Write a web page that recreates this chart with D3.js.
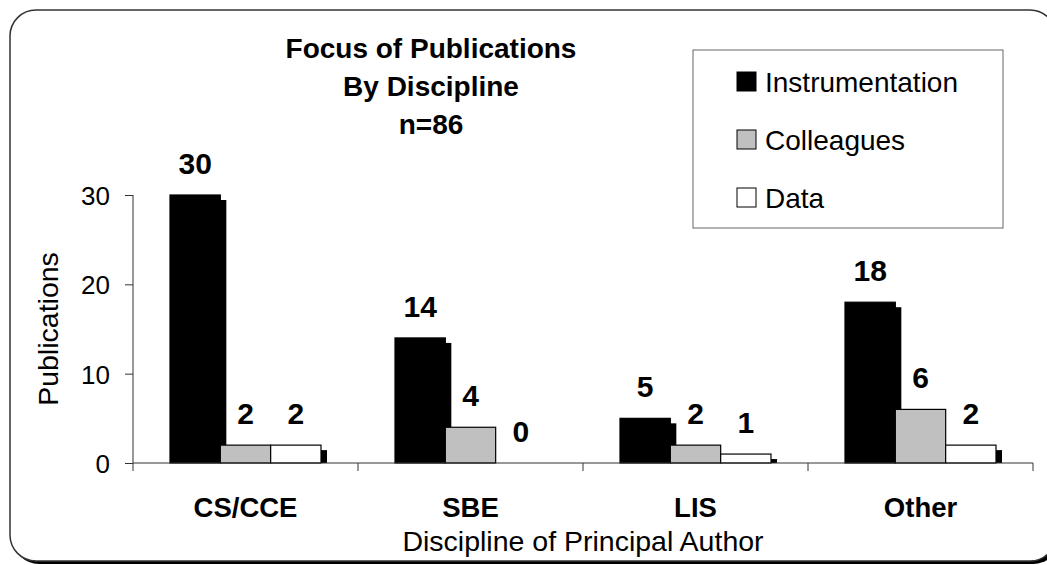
<!DOCTYPE html>
<html>
<head>
<meta charset="utf-8">
<script src="https://cdn.jsdelivr.net/npm/d3@7"></script>
<style>
  body { margin: 0; background: #fff; }
  text { font-family: "Liberation Sans", Arial, sans-serif; fill: #000; }
</style>
</head>
<body>
<svg id="chart" width="1047" height="565"></svg>
<script>
var categories = ["CS/CCE", "SBE", "LIS", "Other"];
var seriesNames = ["Instrumentation", "Colleagues", "Data"];
var instrumentation = [30, 14, 5, 18];
var colleagues = [2, 4, 2, 6];
var dataSeries = [2, 0, 1, 2];
var yTicks = [0, 10, 20, 30];
var titleLines = ["Focus of Publications", "By Discipline", "n=86"];

var seriesValues = [instrumentation, colleagues, dataSeries];
var fills = ["#000000", "#c0c0c0", "#ffffff"];
// the grey series is drawn without the dropped shadow in the original
var hasShadow = [true, false, true];

var svg = d3.select("#chart");

// outer rounded frame with its shadow
svg.append("rect")
  .attr("x", 13).attr("y", 13).attr("width", 1046).attr("height", 551)
  .attr("rx", 26).attr("fill", "#000");
svg.append("rect")
  .attr("x", 10).attr("y", 10).attr("width", 1046).attr("height", 551)
  .attr("rx", 26).attr("fill", "#fff").attr("stroke", "#333").attr("stroke-width", 1.5);

var x0 = d3.scaleBand().domain(categories).range([133, 1033]);
var x1 = d3.scaleBand().domain(seriesNames).range([37, 188]);
var y = d3.scaleLinear().domain([0, 30]).range([463, 195]);

// bars
var groups = svg.selectAll(".group")
  .data(categories)
  .enter()
  .append("g")
  .attr("class", "group")
  .attr("transform", function(d) { return "translate(" + x0(d) + ",0)"; });

groups.each(function(cat, ci) {
  var g = d3.select(this);
  seriesNames.forEach(function(s, si) {
    var v = seriesValues[si][ci];
    if (v > 0) {
      if (hasShadow[si]) {
        g.append("rect")
          .attr("x", x1(s) + 6)
          .attr("y", y(v) + 5)
          .attr("width", x1.bandwidth())
          .attr("height", Math.max(0, y(0) - y(v) - 5))
          .attr("fill", "#000");
      }
      g.append("rect")
        .attr("x", x1(s))
        .attr("y", y(v))
        .attr("width", x1.bandwidth())
        .attr("height", y(0) - y(v))
        .attr("fill", fills[si])
        .attr("stroke", "#000")
        .attr("stroke-width", 1.2);
    }
    g.append("text")
      .attr("x", x1(s) + x1.bandwidth() / 2)
      .attr("y", y(v) - 21)
      .attr("text-anchor", "middle")
      .style("font-size", "30px")
      .style("font-weight", "bold")
      .text(v);
  });
});

// y axis
var yAxis = svg.append("g")
  .attr("transform", "translate(133,0)")
  .call(d3.axisLeft(y).tickValues(yTicks).tickSize(8).tickPadding(15));
yAxis.select(".domain").attr("stroke", "#333").attr("d", "M0," + y(30) + "V" + y(0));
yAxis.selectAll(".tick line").attr("stroke", "#333");
yAxis.selectAll(".tick text")
  .attr("font-family", null)
  .style("font-size", "26px")
  .attr("dy", "0.36em");

// x axis: line with ticks at band edges
var xAxis = svg.append("g");
xAxis.append("line")
  .attr("x1", 133).attr("x2", 1033).attr("y1", y(0)).attr("y2", y(0))
  .attr("stroke", "#333");
xAxis.selectAll(".xtick")
  .data(categories.concat(["end"]))
  .enter()
  .append("line")
  .attr("x1", function(d, i) { return 133 + i * x0.bandwidth(); })
  .attr("x2", function(d, i) { return 133 + i * x0.bandwidth(); })
  .attr("y1", y(0)).attr("y2", y(0) + 8)
  .attr("stroke", "#333");
xAxis.selectAll(".xlabel")
  .data(categories)
  .enter()
  .append("text")
  .attr("x", function(d) { return x0(d) + x0.bandwidth() / 2; })
  .attr("y", 517)
  .attr("text-anchor", "middle")
  .style("font-size", "27.5px")
  .style("font-weight", "bold")
  .text(function(d) { return d; });

// axis titles
svg.append("text")
  .attr("x", 583).attr("y", 551)
  .attr("text-anchor", "middle")
  .style("font-size", "28.5px")
  .text("Discipline of Principal Author");
svg.append("text")
  .attr("transform", "translate(58," + (y(0) + y(30)) / 2 + ") rotate(-90)")
  .attr("text-anchor", "middle")
  .style("font-size", "28.5px")
  .text("Publications");

// title
svg.selectAll(".title")
  .data(titleLines)
  .enter()
  .append("text")
  .attr("x", 431)
  .attr("y", function(d, i) { return 58 + i * 38; })
  .attr("text-anchor", "middle")
  .style("font-size", "28px")
  .style("font-weight", "bold")
  .text(function(d) { return d; });

// legend
var legend = svg.append("g");
legend.append("rect")
  .attr("x", 693).attr("y", 50).attr("width", 310).attr("height", 178)
  .attr("fill", "#fff").attr("stroke", "#666");
var items = legend.selectAll(".item")
  .data(seriesNames)
  .enter()
  .append("g")
  .attr("transform", function(d, i) { return "translate(737," + (92 + i * 58) + ")"; });
items.append("rect")
  .attr("x", 0).attr("y", -20).attr("width", 19).attr("height", 19)
  .attr("fill", function(d, i) { return fills[i]; })
  .attr("stroke", "#000");
items.append("text")
  .attr("x", 28).attr("y", 0)
  .style("font-size", "28px")
  .text(function(d) { return d; });
</script>
</body>
</html>
